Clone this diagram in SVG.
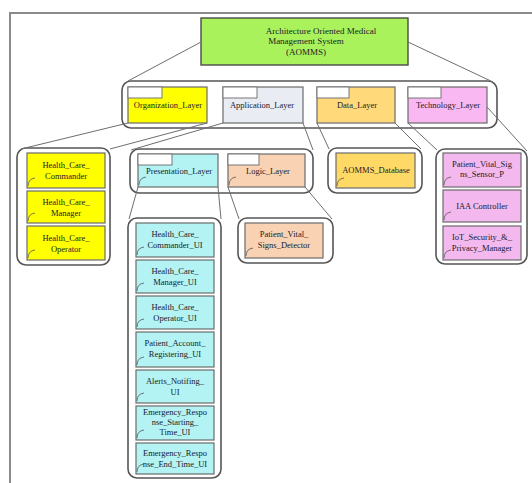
<svg xmlns="http://www.w3.org/2000/svg" xmlns:xlink="http://www.w3.org/1999/xlink" width="532" height="483" viewBox="0 0 532 483">
  <style>
    .frame { fill: none; stroke: #8a8a8a; stroke-width: 2; }
    .cont { fill: #ffffff; stroke: #555; stroke-width: 1.6; }
    .box { stroke: #6b6b6b; stroke-width: 1.2; }
    .tab { fill: #ffffff; stroke: #777; stroke-width: 1; }
    .conn line { stroke: #6e6e6e; stroke-width: 1; }
    .icon { fill: none; stroke: #555; stroke-width: 0.8; }
    text { font-family: "Liberation Serif", "Times New Roman", serif; font-size: 8.5px; fill: #1a1a2a; text-anchor: middle; }
    .title { font-size: 9px; }
    .yel { fill: #ffff00; }
    .app { fill: #e9ecf3; }
    .dat { fill: #ffd97a; }
    .tec { fill: #f9b8f2; }
    .cyn { fill: #b3f3f3; }
    .pch { fill: #f9d2b3; }
    .db { fill: #ffd966; }
    .pnk { fill: #f3b9ef; }
  </style>
  <defs>
    <path id="arc" class="icon" d="M0,0 Q0,-7 7,-8"/>
  </defs>

  <rect width="532" height="483" fill="#ffffff"/>
  <path class="frame" d="M545,13 H10 V490"/>

  <!-- root -->
  <g id="aomms">
    <rect x="201" y="18" width="207" height="47" fill="#a9f25c" stroke="#4a4a4a" stroke-width="1.4"/>
    <text class="title" x="321" y="34">Architecture Oriented Medical</text>
    <text class="title" x="306" y="44">Management System</text>
    <text class="title" x="306" y="55">(AOMMS)</text>
  </g>

  <!-- first level packages -->
  <g id="layers">
    <rect class="cont" x="122" y="81" width="375" height="47" rx="9"/>
  </g>
  <g id="organization_layer">
    <rect class="box yel" x="128" y="87" width="79" height="36"/>
    <rect class="tab" x="128" y="87" width="34" height="11"/>
    <text x="168" y="108">Organization_Layer</text>
  </g>
  <g id="application_layer">
    <rect class="box app" x="223" y="87" width="80" height="36"/>
    <rect class="tab" x="223" y="87" width="34" height="11"/>
    <text x="262" y="108">Application_Layer</text>
  </g>
  <g id="data_layer">
    <rect class="box dat" x="317" y="87" width="78" height="36"/>
    <rect class="tab" x="317" y="87" width="32" height="11"/>
    <text x="357" y="108">Data_Layer</text>
  </g>
  <g id="technology_layer">
    <rect class="box tec" x="408" y="87" width="79" height="36"/>
    <rect class="tab" x="408" y="87" width="33" height="11"/>
    <text x="448" y="108">Technology_Layer</text>
  </g>

  <!-- organization contents -->
  <g id="organization_members">
    <rect class="cont" x="17" y="148" width="93" height="117" rx="9"/>
  </g>
  <g id="health_care_commander">
    <rect class="box yel" x="27" y="153" width="78" height="35"/>
    <text x="66" y="168">Health_Care_</text>
    <text x="66" y="179">Commander</text>
    <use xlink:href="#arc" x="28" y="186"/>
  </g>
  <g id="health_care_manager">
    <rect class="box yel" x="27" y="191" width="78" height="32"/>
    <text x="66" y="205">Health_Care_</text>
    <text x="66" y="216">Manager</text>
    <use xlink:href="#arc" x="28" y="221"/>
  </g>
  <g id="health_care_operator">
    <rect class="box yel" x="27" y="226" width="78" height="34"/>
    <text x="66" y="241">Health_Care_</text>
    <text x="66" y="252">Operator</text>
    <use xlink:href="#arc" x="28" y="258"/>
  </g>

  <!-- application contents -->
  <g id="application_parts">
    <rect class="cont" x="130" y="149" width="183" height="44" rx="9"/>
  </g>
  <g id="presentation_layer">
    <rect class="box cyn" x="138" y="154" width="80" height="33"/>
    <rect class="tab" x="138" y="154" width="34" height="11"/>
    <text x="179" y="174">Presentation_Layer</text>
    <use xlink:href="#arc" x="139" y="185"/>
  </g>
  <g id="logic_layer">
    <rect class="box pch" x="228" y="154" width="77" height="33"/>
    <rect class="tab" x="228" y="154" width="31" height="11"/>
    <text x="268" y="174">Logic_Layer</text>
    <use xlink:href="#arc" x="229" y="185"/>
  </g>

  <!-- data contents -->
  <g id="data_parts">
    <rect class="cont" x="328" y="148" width="94" height="45" rx="9"/>
  </g>
  <g id="aomms_database">
    <rect class="box db" x="336" y="153" width="79" height="35"/>
    <text x="376" y="173">AOMMS_Database</text>
    <use xlink:href="#arc" x="337" y="186"/>
  </g>

  <!-- technology contents -->
  <g id="technology_parts">
    <rect class="cont" x="436" y="149" width="91" height="115" rx="9"/>
  </g>
  <g id="patient_vital_signs_sensor">
    <rect class="box pnk" x="443" y="153" width="78" height="34"/>
    <text x="482" y="167">Patient_Vital_Sig</text>
    <text x="482" y="177">ns_Sensor_P</text>
    <use xlink:href="#arc" x="444" y="185"/>
  </g>
  <g id="iaa_controller">
    <rect class="box pnk" x="443" y="190" width="78" height="32"/>
    <text x="482" y="209">IAA Controller</text>
    <use xlink:href="#arc" x="444" y="220"/>
  </g>
  <g id="iot_security_privacy_manager">
    <rect class="box pnk" x="443" y="226" width="78" height="34"/>
    <text x="482" y="240">IoT_Security_&amp;_</text>
    <text x="482" y="251">Privacy_Manager</text>
    <use xlink:href="#arc" x="444" y="258"/>
  </g>

  <!-- presentation contents -->
  <g id="presentation_parts">
    <rect class="cont" x="128" y="218" width="93" height="260" rx="9"/>
  </g>
  <g id="health_care_commander_ui">
    <rect class="box cyn" x="136" y="223" width="78" height="34"/>
    <text x="175" y="237">Health_Care_</text>
    <text x="175" y="248">Commander_UI</text>
    <use xlink:href="#arc" x="137" y="255"/>
  </g>
  <g id="health_care_manager_ui">
    <rect class="box cyn" x="136" y="260" width="78" height="33"/>
    <text x="175" y="274">Health_Care_</text>
    <text x="175" y="285">Manager_UI</text>
    <use xlink:href="#arc" x="137" y="291"/>
  </g>
  <g id="health_care_operator_ui">
    <rect class="box cyn" x="136" y="296" width="78" height="33"/>
    <text x="175" y="310">Health_Care_</text>
    <text x="175" y="321">Operator_UI</text>
    <use xlink:href="#arc" x="137" y="327"/>
  </g>
  <g id="patient_account_registering_ui">
    <rect class="box cyn" x="136" y="332" width="78" height="35"/>
    <text x="175" y="346">Patient_Account_</text>
    <text x="175" y="357">Registering_UI</text>
    <use xlink:href="#arc" x="137" y="365"/>
  </g>
  <g id="alerts_notifing_ui">
    <rect class="box cyn" x="136" y="370" width="78" height="33"/>
    <text x="175" y="384">Alerts_Notifing_</text>
    <text x="175" y="395">UI</text>
    <use xlink:href="#arc" x="137" y="401"/>
  </g>
  <g id="emergency_response_starting_time_ui">
    <rect class="box cyn" x="136" y="406" width="78" height="34"/>
    <text x="175" y="415">Emergency_Respo</text>
    <text x="175" y="425">nse_Starting_</text>
    <text x="175" y="435">Time_UI</text>
    <use xlink:href="#arc" x="137" y="438"/>
  </g>
  <g id="emergency_response_end_time_ui">
    <rect class="box cyn" x="136" y="443" width="78" height="31"/>
    <text x="175" y="456">Emergency_Respo</text>
    <text x="175" y="467">nse_End_Time_UI</text>
    <use xlink:href="#arc" x="137" y="472"/>
  </g>

  <!-- logic contents -->
  <g id="logic_parts">
    <rect class="cont" x="238" y="218" width="95" height="45" rx="9"/>
  </g>
  <g id="patient_vital_signs_detector">
    <rect class="box pch" x="245" y="223" width="78" height="35"/>
    <text x="284" y="237">Patient_Vital_</text>
    <text x="284" y="248">Signs_Detector</text>
    <use xlink:href="#arc" x="246" y="256"/>
  </g>

  <!-- expansion connectors -->
  <g id="connectors" class="conn">
    <line x1="201" y1="42" x2="128" y2="81"/>
    <line x1="408" y1="42" x2="493" y2="82"/>
    <line x1="128" y1="123" x2="21" y2="149"/>
    <line x1="207" y1="123" x2="110" y2="149"/>
    <line x1="223" y1="123" x2="131" y2="150"/>
    <line x1="303" y1="123" x2="313" y2="150"/>
    <line x1="317" y1="123" x2="329" y2="149"/>
    <line x1="395" y1="123" x2="421" y2="149"/>
    <line x1="408" y1="123" x2="437" y2="150"/>
    <line x1="487" y1="107" x2="527" y2="151"/>
    <line x1="138" y1="187" x2="129" y2="219"/>
    <line x1="218" y1="187" x2="221" y2="219"/>
    <line x1="228" y1="187" x2="239" y2="219"/>
    <line x1="305" y1="187" x2="332" y2="219"/>
  </g>
</svg>
